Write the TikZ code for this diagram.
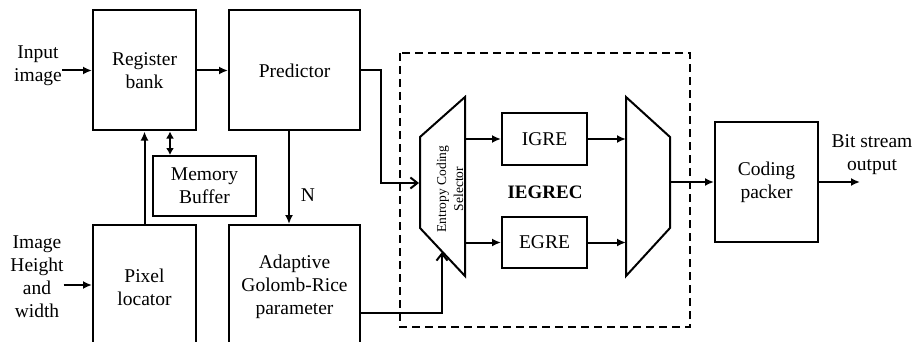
\documentclass[tikz,border=0pt]{standalone}
\usepackage{fontspec}
\setmainfont{Liberation Serif}
\usetikzlibrary{arrows.meta,calc}
\begin{document}
\begin{tikzpicture}[x=1pt,y=-1pt,
  lw/.style={line width=2pt},
  blk/.style={draw,lw,rectangle,inner sep=0pt,align=center,font=\fontsize{19.5}{23}\selectfont},
  lbl/.style={align=center,inner sep=0pt,font=\fontsize{19.5}{23}\selectfont},
  arr/.style={lw,-{Latex[length=9pt,width=8pt]}},
  oarr/.style={lw,-{Straight Barb[length=7pt,width=11pt]}}]
\useasboundingbox (0,0) rectangle (915,342);
\begin{scope}
\clip (0,0) rectangle (915,342);
% boxes
\node[blk,minimum width=103pt,minimum height=120pt] (reg) at (144.5,70.5) {Register\\bank};
\node[blk,minimum width=131pt,minimum height=120pt] (pred) at (294.5,70.5) {Predictor};
\node[blk,minimum width=103pt,minimum height=60pt] (mem) at (204.5,186) {Memory\\Buffer};
\node[blk,minimum width=103pt,minimum height=124pt] (pix) at (144.5,287) {Pixel\\locator};
\node[blk,minimum width=131pt,minimum height=124pt] (adap) at (294.5,287) {Adaptive\\Golomb-Rice\\parameter};
\node[blk,minimum width=85pt,minimum height=52pt] (igre) at (544.5,139) {IGRE};
\node[blk,minimum width=85pt,minimum height=51pt] (egre) at (544.5,242.5) {EGRE};
\node[blk,minimum width=103pt,minimum height=120pt] (pack) at (766.5,182) {Coding\\packer};
% external labels
\node[lbl] (inp) at (38,66) {Input\\image};
\node[lbl] (ihw) at (37,277) {Image\\Height\\and\\width};
\node[lbl] (bso) at (872,155) {Bit stream\\output};
\node[lbl] (n) at (308,195) {N};
\node[lbl,font=\fontsize{19}{23}\selectfont\bfseries] (iegrec) at (545,192) {IEGREC};
% dashed box
\draw[lw,dash pattern=on 8pt off 5pt] (400,53) rectangle (690,327);
% selector trapezoid
\coordinate (s1) at (420,137);
\coordinate (s2) at (465,97);
\coordinate (s3) at (465,276);
\coordinate (s4) at (420,228);
\draw[lw,line join=miter] (s1) -- (s2) -- (s3) -- (s4) -- cycle;
\node[rotate=90,align=center,inner sep=0pt,font=\fontsize{13.5}{17}\selectfont] (sel) at (450,189) {Entropy Coding\\Selector};
% output mux
\coordinate (m1) at (626,97);
\coordinate (m2) at (670,137);
\coordinate (m3) at (670,228);
\coordinate (m4) at (626,276);
\draw[lw,line join=miter] (m1) -- (m2) -- (m3) -- (m4) -- cycle;
% connectors
\draw[arr] (inp.east |- reg.west) -- (reg.west);
\draw[arr] (ihw.east |- 0,285) -- (pix.west |- 0,285);
\draw[arr] (reg.east) -- (pred.west);
\draw[arr] (pix.north) -- (reg.south);
\draw[lw,{Latex[length=7pt,width=8pt]}-{Latex[length=7pt,width=8pt]}] (reg.south -| 170,0) -- (mem.north -| 170,0);
\draw[arr] (pred.south -| 289,0) -- (adap.north -| 289,0);
\coordinate (selin) at (419,183);
\draw[oarr] (pred.east) -| (381,183) -- (selin);
\coordinate (selin2) at (442,252);
\draw[oarr] (adap.east |- 0,313) -| (selin2);
\draw[arr] (465,139) -- (igre.west);
\draw[arr] (465,242.5) -- (egre.west);
\draw[arr] (igre.east) -- (626,139);
\draw[arr] (egre.east) -- (626,242.5);
\draw[arr] (670,182) -- (pack.west);
\draw[arr] (pack.east) -- (860,182);
\end{scope}
\end{tikzpicture}
\end{document}
